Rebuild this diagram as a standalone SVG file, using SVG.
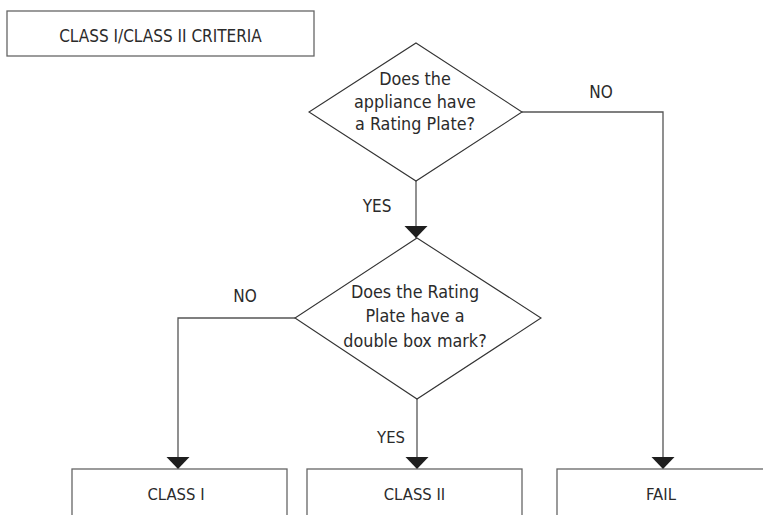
<svg xmlns="http://www.w3.org/2000/svg" width="763" height="515" viewBox="0 0 763 515">
<style>
text{font-family:"DejaVu Sans","Liberation Sans",sans-serif;font-stretch:condensed;font-size:16.5px;fill:#2b2b2b;text-anchor:middle}
.q{font-size:17.8px}
.t{font-size:17px}
.box{fill:#fff;stroke:#666;stroke-width:1.3}
.dia{fill:#fff;stroke:#333;stroke-width:1.1}
.con{fill:none;stroke:#555;stroke-width:1.3}
</style>
<defs>
<marker id="arr" viewBox="0 -12 12 24" markerWidth="12" markerHeight="24" refX="12" refY="0" markerUnits="userSpaceOnUse" orient="auto">
<path d="M0,-11.5 L12,0 L0,11.5 z" fill="#1e1e1e"/>
</marker>
</defs>
<rect width="763" height="515" fill="#fff"/>
<g id="title"><rect class="box" x="7" y="11" width="307" height="45"/><text class="t" x="160.5" y="42">CLASS I/CLASS II CRITERIA</text></g>
<g id="connectors">
<path class="con" d="M416,181 V238" marker-end="url(#arr)"/>
<path class="con" d="M522,112 H663 V469" marker-end="url(#arr)"/>
<path class="con" d="M295,318 H178 V469" marker-end="url(#arr)"/>
<path class="con" d="M417,399 V469" marker-end="url(#arr)"/>
<text class="t" x="601" y="98">NO</text>
<text class="t" x="377" y="212">YES</text>
<text class="t" x="245" y="302">NO</text>
<text x="391" y="443">YES</text>
</g>
<g id="q1"><path class="dia" d="M416,43 L522,112 L416,181 L309,112 Z"/>
<text class="q" x="415" y="85">Does the</text><text class="q" x="415" y="108">appliance have</text><text class="q" x="415" y="130">a Rating Plate?</text></g>
<g id="q2"><path class="dia" d="M417,238 L541,318 L417,399 L295,318 Z"/>
<text class="q" x="415" y="298">Does the Rating</text><text class="q" x="415" y="322">Plate have a</text><text class="q" x="415" y="347">double box mark?</text></g>
<g id="class1"><rect class="box" x="72" y="469" width="215" height="60"/><text x="176" y="500">CLASS I</text></g>
<g id="class2"><rect class="box" x="307" y="469" width="215" height="60"/><text x="414.5" y="500">CLASS II</text></g>
<g id="fail"><rect class="box" x="557" y="469" width="208" height="60"/><text x="661" y="500">FAIL</text></g>
</svg>
